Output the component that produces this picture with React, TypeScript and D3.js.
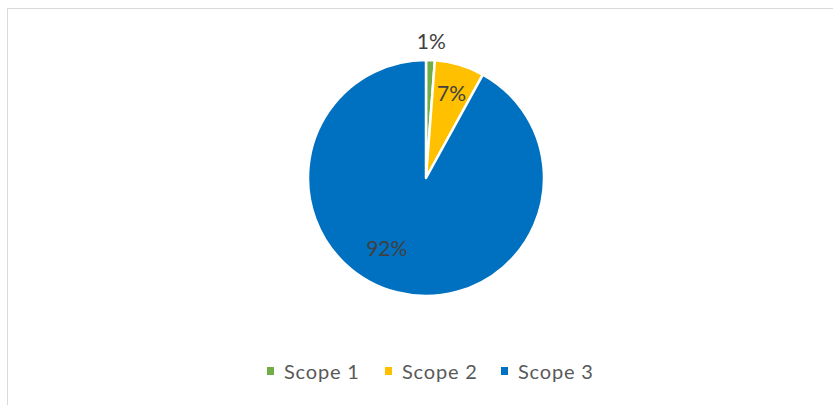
import React from "react";
import * as d3 from "d3";

const categories = ["Scope 1", "Scope 2", "Scope 3"];
const values = [1.2, 6.8, 92.0];
const labels = ["1%", "7%", "92%"];
const colors = ["#70AD47", "#FFC000", "#0070C0"];

const W = 833;
const H = 405;
const cx = 426;
const cy = 178;
const R = 118;
// label placement (fraction of radius, angle shift in radians)
const labelRadius = [1.17, 0.76, 0.68];
const labelShift = [0, 0, 0.26];

export default function App() {
  const pie = d3.pie<number>().sort(null).value((d) => d)(values);
  const arc = d3.arc<d3.PieArcDatum<number>>().innerRadius(0).outerRadius(R);

  const legendX = [267, 385, 501];
  return (
    <svg
      width={W}
      height={H}
      style={{ position: "absolute", left: 0, top: 0 }}
      fontFamily="Lato, 'Open Sans', sans-serif"
    >
      <rect x={0} y={0} width={W} height={H} fill="#fff" />
      <rect x={7.5} y={8.5} width={840} height={420} fill="#fff" stroke="#D9D9D9" strokeWidth={1} />
      <g transform={`translate(${cx},${cy})`}>
        {pie.map((p, i) => (
          <path key={i} d={arc(p) || ""} fill={colors[i]} stroke="#fff" strokeWidth={2.5} strokeLinejoin="round" />
        ))}
        {pie.map((p, i) => {
          const a = (p.startAngle + p.endAngle) / 2 + labelShift[i];
          const r = R * labelRadius[i];
          return (
            <text
              key={i}
              x={Math.sin(a) * r}
              y={-Math.cos(a) * r}
              textAnchor="middle"
              dominantBaseline="central"
              fontSize={21}
              fill="#404040"
            >
              {labels[i]}
            </text>
          );
        })}
      </g>
      <g>
        {categories.map((c, i) => (
          <g key={c} transform={`translate(${legendX[i]},371)`}>
            <rect x={0} y={-4} width={7} height={8} fill={colors[i]} />
            <text x={17} y={0} dominantBaseline="central" fontSize={20} letterSpacing={0.8} fill="#595959">
              {c}
            </text>
          </g>
        ))}
      </g>
    </svg>
  );
}
